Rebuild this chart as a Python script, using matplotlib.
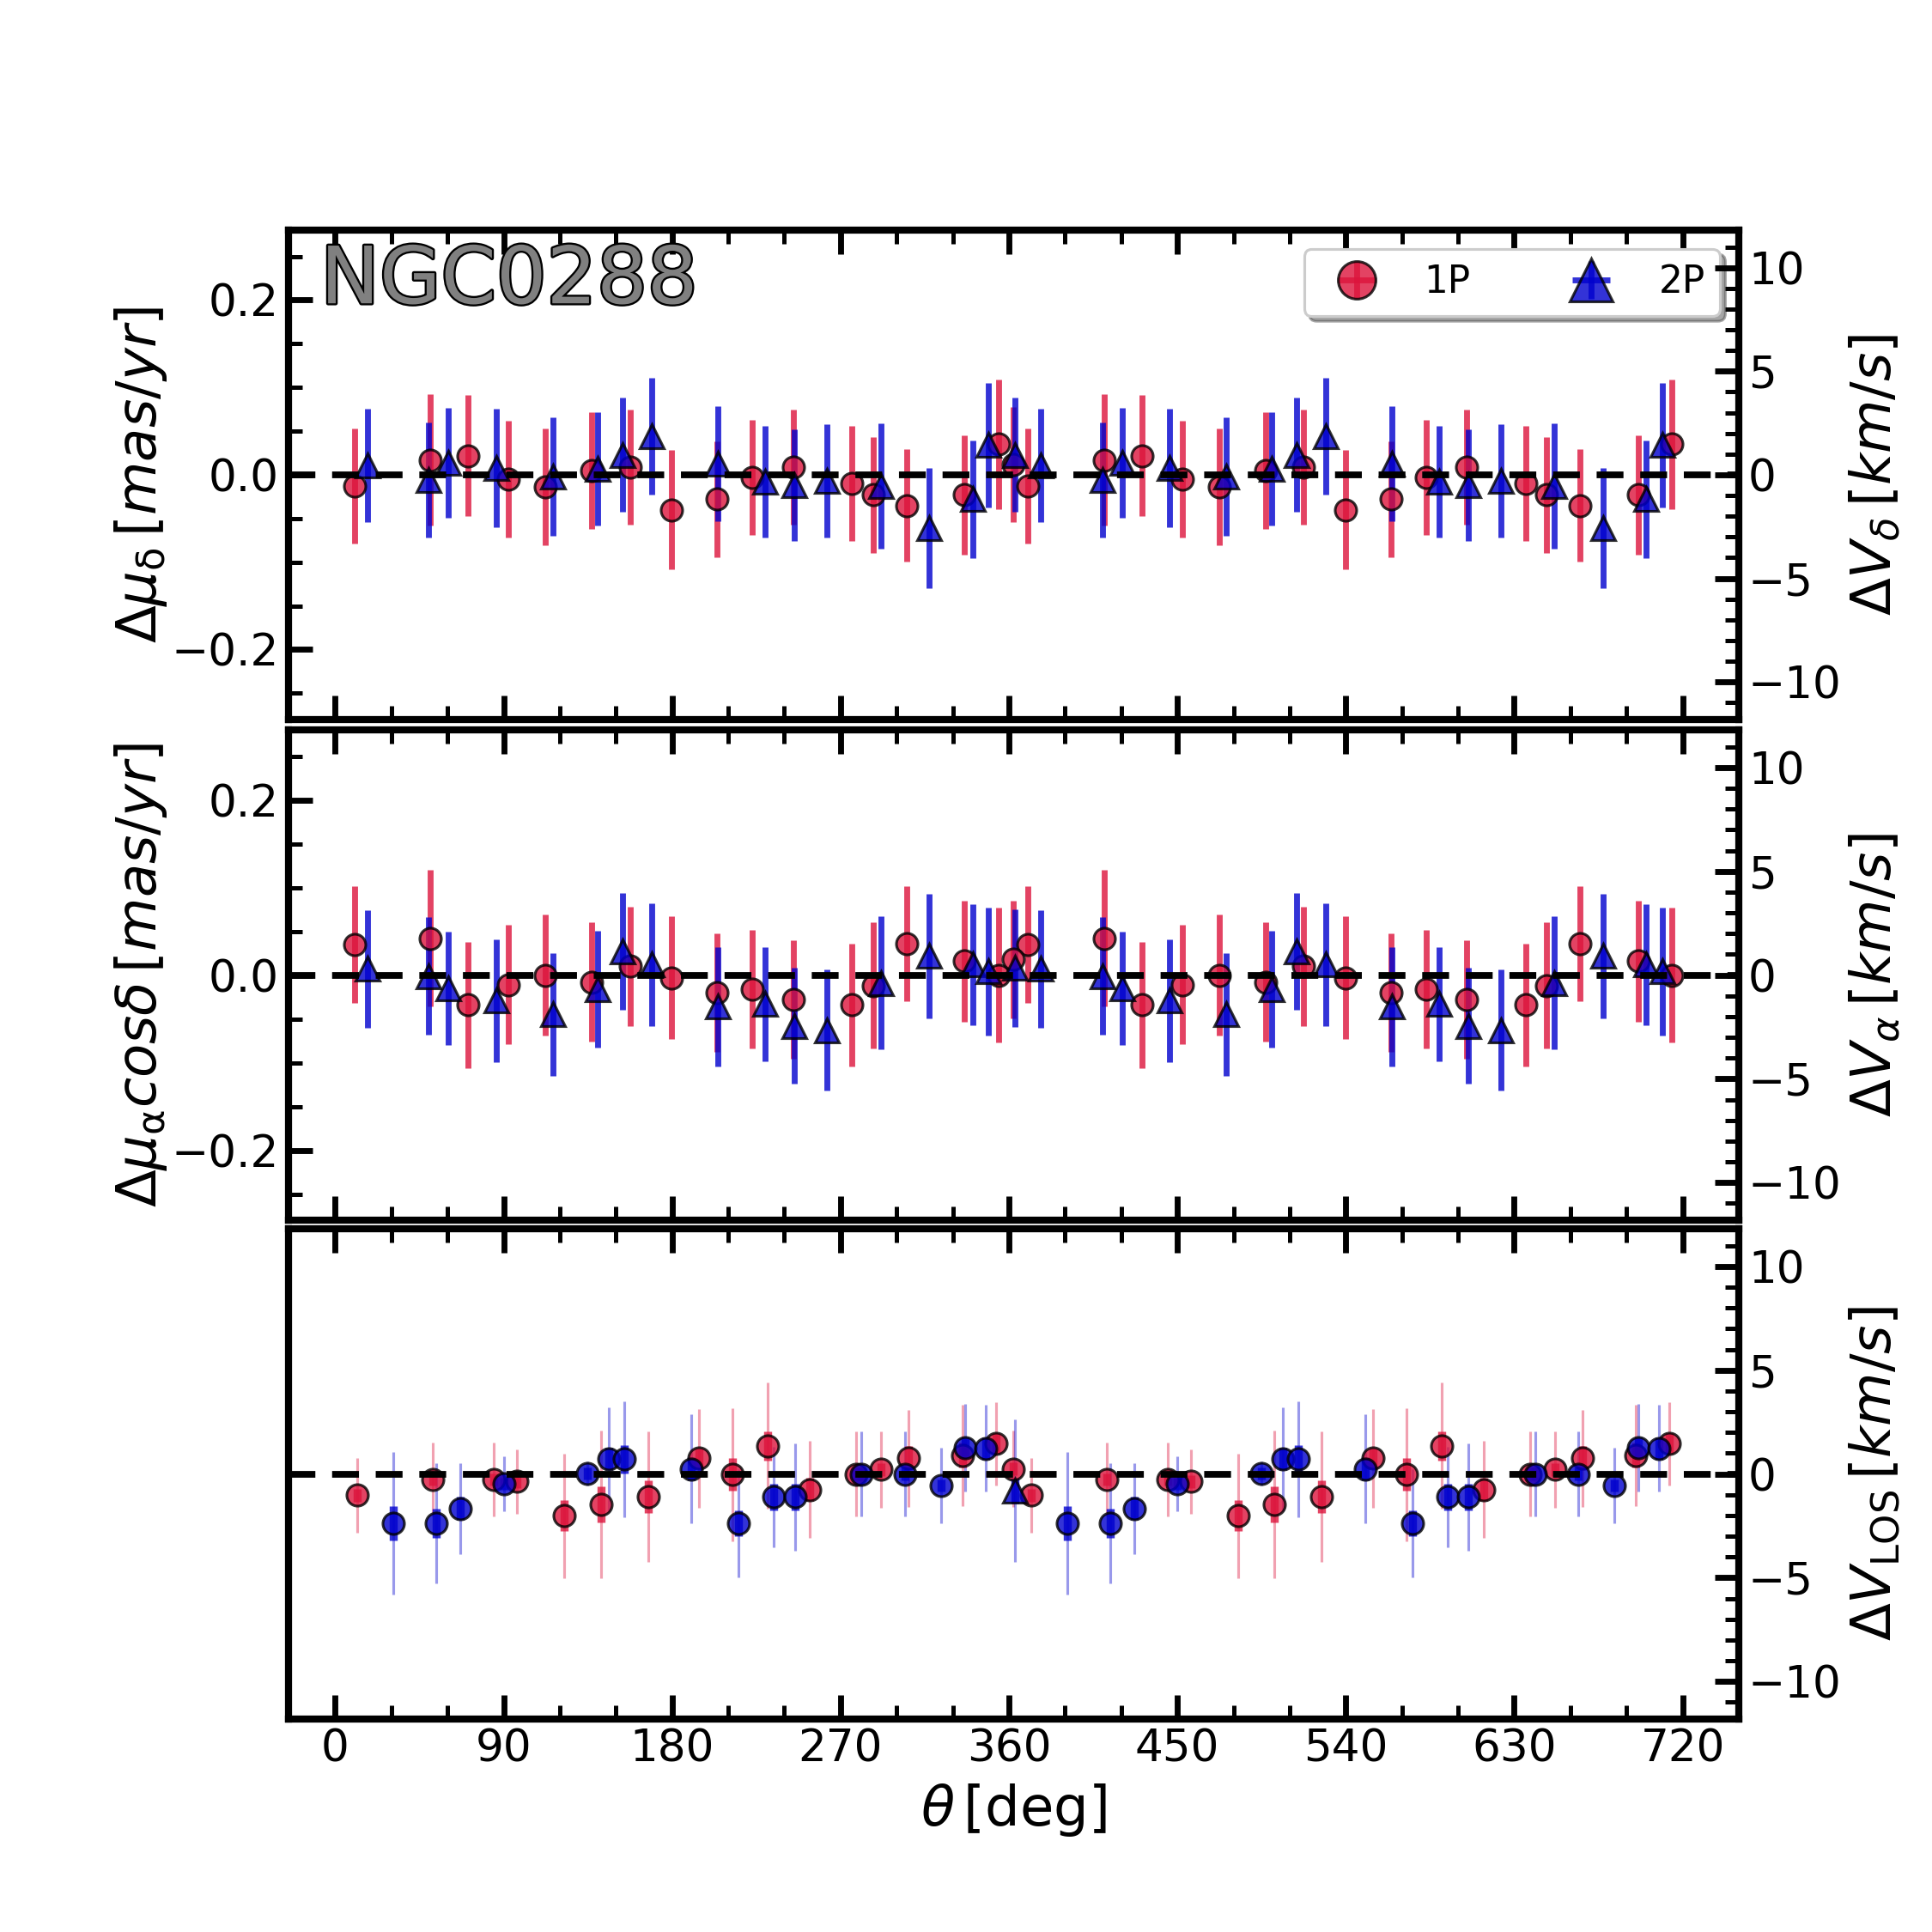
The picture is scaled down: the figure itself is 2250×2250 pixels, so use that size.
import numpy as np
import matplotlib
matplotlib.use("Agg")
import matplotlib.pyplot as plt
import matplotlib.patheffects as pe
from matplotlib.ticker import MultipleLocator

# conversion mas/yr -> km/s (4.74 * D, D ~ 8.9 kpc)
K = 42.2

# 1P / 2P proper-motion bins (theta in deg, 0-360; repeated at +360)
theta_1p = [10.3, 50.8, 71.0, 92.7, 112.3, 137.0, 157.5, 179.7, 204.0, 223.0, 244.7, 276.1, 287.3, 305.2, 336.1, 354.4]
theta_2p = [17.1, 49.9, 60.5, 86.0, 116.3, 140.3, 153.7, 169.3, 204.6, 229.9, 245.3, 262.8, 291.4, 317.4, 340.5, 349.1]

dmud_1p = [-0.013, 0.017, 0.022, -0.005, -0.014, 0.005, 0.009, -0.040, -0.028, -0.003, 0.009, -0.010, -0.023, -0.035, -0.023, 0.035]
dmud_1p_err = [0.066, 0.075, 0.069, 0.067, 0.067, 0.067, 0.066, 0.068, 0.066, 0.066, 0.066, 0.066, 0.066, 0.064, 0.068, 0.074]
dmud_2p = [0.011, -0.006, 0.014, 0.008, -0.002, 0.007, 0.023, 0.044, 0.013, -0.008, -0.012, -0.007, -0.013, -0.061, -0.028, 0.034]
dmud_2p_err = [0.065, 0.066, 0.063, 0.068, 0.068, 0.065, 0.065, 0.067, 0.066, 0.064, 0.064, 0.065, 0.072, 0.069, 0.067, 0.071]

dmua_1p = [0.035, 0.042, -0.034, -0.011, 0.000, -0.008, 0.010, -0.003, -0.020, -0.016, -0.028, -0.034, -0.012, 0.036, 0.016, 0.000]
dmua_1p_err = [0.067, 0.078, 0.072, 0.068, 0.069, 0.068, 0.068, 0.070, 0.068, 0.068, 0.068, 0.070, 0.072, 0.066, 0.069, 0.077]
dmua_2p = [0.007, -0.001, -0.015, -0.029, -0.045, -0.016, 0.027, 0.012, -0.036, -0.033, -0.058, -0.063, -0.009, 0.022, 0.012, 0.004]
dmua_2p_err = [0.067, 0.067, 0.065, 0.070, 0.070, 0.067, 0.067, 0.070, 0.068, 0.065, 0.066, 0.069, 0.076, 0.071, 0.069, 0.073]

# LOS velocities (km/s)
theta_los_1p = [11.8, 52.2, 84.9, 97.2, 122.3, 142.0, 167.1, 194.5, 212.4, 231.1, 253.5, 278.5, 291.8, 306.5, 335.0, 352.9]
vlos_1p = [-1.03, -0.27, -0.27, -0.37, -2.02, -1.46, -1.10, 0.75, -0.03, 1.35, -0.75, 0.00, 0.21, 0.75, 0.90, 1.46]
vlos_1p_err = [0.30, 0.30, 0.30, 0.30, 0.74, 0.88, 0.79, 0.49, 0.79, 0.70, 0.56, 0.30, 0.30, 0.58, 0.60, 0.49]
vlos_1p_disp = [1.79, 1.79, 1.79, 1.55, 3.00, 3.56, 3.13, 2.38, 3.20, 3.04, 2.33, 2.05, 1.85, 2.33, 2.44, 2.00]

theta_los_2p = [31.1, 54.0, 66.9, 90.1, 134.9, 146.3, 154.5, 190.3, 215.6, 234.3, 245.6, 281.2, 304.4, 323.6, 336.5, 347.4]
vlos_2p = [-2.38, -2.38, -1.67, -0.48, 0.03, 0.71, 0.71, 0.24, -2.38, -1.11, -1.11, 0.00, 0.00, -0.56, 1.27, 1.24]
vlos_2p_err = [0.84, 0.71, 0.56, 0.30, 0.30, 0.54, 0.67, 0.56, 0.63, 0.63, 0.63, 0.30, 0.30, 0.30, 0.48, 0.54]
vlos_2p_disp = [3.44, 2.90, 2.20, 1.33, 0.58, 2.49, 2.80, 2.63, 2.60, 2.42, 2.60, 2.05, 2.05, 1.81, 2.10, 2.10]

# extra pair sitting just past 360 deg
theta_extra = [362.3, 363.3]
dmud_extra = [0.012, 0.023]
dmud_extra_err = [0.066, 0.065]
dmua_extra = [0.018, 0.008]
dmua_extra_err = [0.067, 0.067]
vlos_extra = [0.24, -0.80]
vlos_extra_err = [0.30, 0.63]
vlos_extra_disp = [1.85, 3.43]

RED = "crimson"
BLUE = "mediumblue"
ELW = 2.2
LABFS = 20.5


def twice(a):
    a = np.asarray(a, dtype=float)
    return np.concatenate([a, a])


def shifted(th):
    th = np.asarray(th, dtype=float)
    return np.concatenate([th, th + 360.0])


def style(ax):
    for s in ax.spines.values():
        s.set_linewidth(2.6)
    ax.tick_params(which="both", direction="in", top=True, labelsize=16.5)
    ax.tick_params(which="major", length=9, width=2.2)
    ax.tick_params(which="minor", length=5, width=1.6)
    ax.xaxis.set_major_locator(MultipleLocator(90))
    ax.xaxis.set_minor_locator(MultipleLocator(30))
    ax.set_xlim(-25, 750)


def right_axis(ax, label):
    axr = ax.twinx()
    axr.set_ylim(-0.28 * K, 0.28 * K)
    axr.yaxis.set_major_locator(MultipleLocator(5))
    axr.yaxis.set_minor_locator(MultipleLocator(1))
    for s in axr.spines.values():
        s.set_linewidth(2.6)
    axr.tick_params(which="both", direction="in", labelsize=16.5)
    axr.tick_params(which="major", length=9, width=2.2)
    axr.tick_params(which="minor", length=5, width=1.6)
    axr.set_ylabel(label, fontsize=LABFS, labelpad=2)
    return axr


def pm_panel(ax, y1, e1, y2, e2, ye, ee, lab_left, lab_right):
    x1 = shifted(theta_1p)
    x2 = shifted(theta_2p)
    h1 = ax.errorbar(x1, twice(y1), yerr=twice(e1), xerr=np.zeros(len(x1)), fmt="o", ms=8,
                     color=RED, mec="k", mew=1.0, elinewidth=ELW, alpha=0.8, capsize=0, zorder=3)
    h2 = ax.errorbar(x2, twice(y2), yerr=twice(e2), xerr=np.zeros(len(x2)), fmt="^", ms=9,
                     color=BLUE, mec="k", mew=1.0, elinewidth=ELW, alpha=0.8, capsize=0, zorder=3)
    ax.errorbar(theta_extra[0], ye[0], yerr=ee[0], fmt="o", ms=8, color=RED, mec="k", mew=1.0,
                elinewidth=ELW, alpha=0.8, zorder=3)
    ax.errorbar(theta_extra[1], ye[1], yerr=ee[1], fmt="^", ms=9, color=BLUE, mec="k", mew=1.0,
                elinewidth=ELW, alpha=0.8, zorder=3)
    ax.axhline(0, color="k", ls="--", lw=2.5, dashes=(4, 2.5), zorder=4)
    ax.set_ylim(-0.28, 0.28)
    ax.yaxis.set_major_locator(MultipleLocator(0.2))
    ax.yaxis.set_minor_locator(MultipleLocator(0.05))
    ax.set_ylabel(lab_left, fontsize=LABFS, labelpad=1)
    style(ax)
    ax.tick_params(labelbottom=False)
    right_axis(ax, lab_right)
    return h1, h2


fig = plt.figure(figsize=(10, 10), dpi=225)
ax1 = fig.add_axes([0.1493, 0.6276, 0.7507, 0.2533])
ax2 = fig.add_axes([0.1493, 0.3684, 0.7507, 0.2538])
ax3 = fig.add_axes([0.1493, 0.1102, 0.7507, 0.2538])

h1, h2 = pm_panel(ax1, dmud_1p, dmud_1p_err, dmud_2p, dmud_2p_err, dmud_extra, dmud_extra_err,
                  r"$\Delta\mu_{\mathrm{\delta}}\,[mas/yr]$", r"$\Delta V_{\delta}\,[km/s]$")
pm_panel(ax2, dmua_1p, dmua_1p_err, dmua_2p, dmua_2p_err, dmua_extra, dmua_extra_err,
         r"$\Delta\mu_{\mathrm{\alpha}}cos\delta\,[mas/yr]$", r"$\Delta V_{\alpha}\,[km/s]$")

txt = ax1.text(0.022, 0.975, "NGC0288", transform=ax1.transAxes, fontsize=29.5, color="gray",
               va="top", ha="left", zorder=6)
txt.set_path_effects([pe.withStroke(linewidth=1.5, foreground="k")])

leg = ax1.legend([h1, h2], ["1P", "2P"], loc="upper right", ncol=2, fontsize=14, markerscale=1.75,
                 shadow=True, fancybox=True, columnspacing=2.2, handletextpad=0.8,
                 borderaxespad=0.5, framealpha=1)

# LOS panel
ax3.set_yticks([])
style(ax3)
ax3.set_ylim(-0.28 * K, 0.28 * K)
xl1 = shifted(theta_los_1p)
xl2 = shifted(theta_los_2p)
ax3.errorbar(xl1, twice(vlos_1p), yerr=twice(vlos_1p_disp), fmt="none", ecolor=RED, elinewidth=1.0, alpha=0.4, zorder=2)
ax3.errorbar(xl2, twice(vlos_2p), yerr=twice(vlos_2p_disp), fmt="none", ecolor=BLUE, elinewidth=1.0, alpha=0.4, zorder=2)
ax3.errorbar(xl1, twice(vlos_1p), yerr=twice(vlos_1p_err), fmt="o", ms=8, color=RED, mec="k", mew=1.0,
             elinewidth=3, alpha=0.8, zorder=3)
ax3.errorbar(xl2, twice(vlos_2p), yerr=twice(vlos_2p_err), fmt="o", ms=8, color=BLUE, mec="k", mew=1.0,
             elinewidth=3, alpha=0.8, zorder=3)
ax3.errorbar(theta_extra, vlos_extra, yerr=vlos_extra_disp, fmt="none", ecolor=[RED, BLUE], elinewidth=1.0, alpha=0.4)
ax3.errorbar(theta_extra[0], vlos_extra[0], yerr=vlos_extra_err[0], fmt="o", ms=8, color=RED, mec="k", mew=1.0,
             elinewidth=3, alpha=0.8, zorder=3)
ax3.errorbar(theta_extra[1], vlos_extra[1], yerr=vlos_extra_err[1], fmt="^", ms=9, color=BLUE, mec="k", mew=1.0,
             elinewidth=3, alpha=0.8, zorder=3)
ax3.axhline(0, color="k", ls="--", lw=2.5, dashes=(4, 2.5), zorder=4)
ax3.set_xlabel(r"$\theta\,$[deg]", fontsize=LABFS)
right_axis(ax3, r"$\Delta V_{\mathrm{LOS}}\,[km/s]$")

fig.savefig("out.png", dpi=225)
